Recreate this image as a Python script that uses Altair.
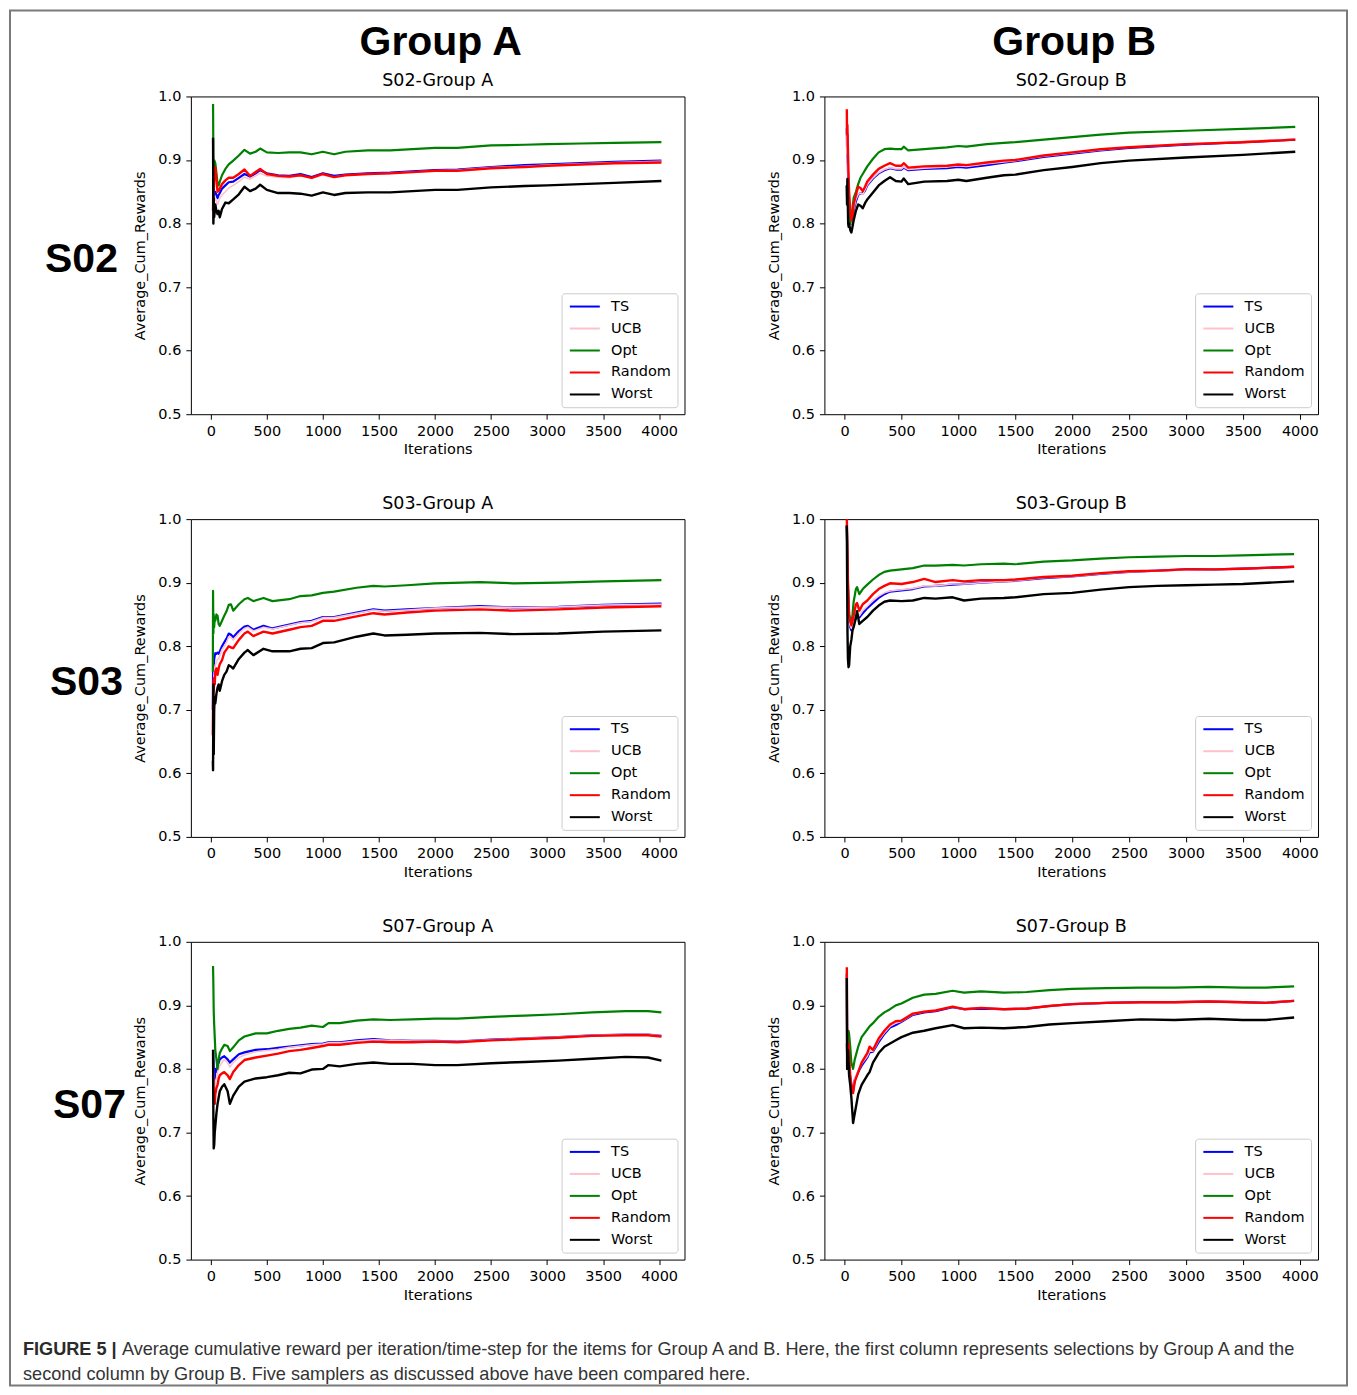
import altair as alt
import pandas as pd

SAMPLERS = ["TS", "UCB", "Opt", "Random", "Worst"]
COLORS = ["#0000ff", "#ffc0cb", "#008000", "#ff0000", "#000000"]
LINE_WIDTHS = [2.2, 1.6, 2.2, 2.4, 2.4]
X_TICKS = [0, 500, 1000, 1500, 2000, 2500, 3000, 3500, 4000]
Y_TICKS = [0.5, 0.6, 0.7, 0.8, 0.9, 1.0]

# ---------------- S02 - Group A ----------------
S02A_ITER = [20, 23, 26, 30, 40, 50, 60, 70, 80, 100, 130, 160, 200, 250, 300, 350, 400, 440, 500, 600,
             700, 800, 900, 1000, 1100, 1200, 1400, 1600, 1800, 2000, 2200, 2500, 2800, 3000, 3300, 3600, 4020]
S02A_TS = [0.82, 0.86, 0.84, 0.85, 0.85, 0.845, 0.84, 0.845, 0.848, 0.855, 0.86, 0.865, 0.866, 0.872, 0.878, 0.874,
           0.879, 0.884, 0.879, 0.876, 0.875, 0.878, 0.873, 0.879, 0.875, 0.877, 0.879, 0.880, 0.882, 0.884, 0.885,
           0.889, 0.892, 0.893, 0.895, 0.897, 0.899]
S02A_UCB = [0.80, 0.85, 0.83, 0.835, 0.84, 0.835, 0.83, 0.835, 0.84, 0.845, 0.85, 0.856, 0.86, 0.866, 0.873, 0.87,
            0.875, 0.879, 0.875, 0.873, 0.872, 0.876, 0.871, 0.877, 0.873, 0.876, 0.878, 0.879, 0.881, 0.883, 0.884,
            0.888, 0.890, 0.892, 0.894, 0.896, 0.898]
S02A_OPT = [0.988, 0.90, 0.87, 0.90, 0.895, 0.88, 0.862, 0.86, 0.866, 0.876, 0.886, 0.893, 0.899, 0.907, 0.916, 0.91,
            0.913, 0.918, 0.912, 0.911, 0.912, 0.912, 0.909, 0.913, 0.909, 0.913, 0.915, 0.915, 0.917, 0.919, 0.919,
            0.923, 0.924, 0.925, 0.926, 0.927, 0.928]
S02A_RANDOM = [0.82, 0.89, 0.85, 0.875, 0.888, 0.87, 0.85, 0.852, 0.855, 0.862, 0.868, 0.872, 0.872, 0.878, 0.885,
               0.875, 0.881, 0.886, 0.878, 0.875, 0.874, 0.876, 0.872, 0.878, 0.873, 0.876, 0.878, 0.879, 0.881,
               0.883, 0.883, 0.887, 0.889, 0.891, 0.893, 0.895, 0.896]
S02A_WORST = [0.935, 0.80, 0.84, 0.81, 0.83, 0.82, 0.815, 0.82, 0.81, 0.823, 0.833, 0.832, 0.838, 0.846, 0.858, 0.851,
              0.855, 0.861, 0.853, 0.848, 0.848, 0.847, 0.844, 0.849, 0.845, 0.848, 0.849, 0.849, 0.851, 0.853, 0.853,
              0.857, 0.859, 0.860, 0.862, 0.864, 0.867]

# ---------------- S02 - Group B ----------------
S02B_ITER = [20, 22, 25, 28, 32, 36, 40, 50, 60, 70, 80, 100, 120, 140, 160, 180, 200, 250, 300, 350, 400, 450, 500,
             520, 560, 700, 900, 1000, 1070, 1250, 1400, 1500, 1750, 2000, 2250, 2500, 3000, 3500, 3960]
S02B_TS = [0.95, 0.92, 0.94, 0.90, 0.87, 0.85, 0.83, 0.81, 0.80, 0.805, 0.82, 0.835, 0.845, 0.848, 0.847, 0.852, 0.86,
           0.871, 0.879, 0.884, 0.887, 0.885, 0.885, 0.888, 0.884, 0.886, 0.887, 0.889, 0.888, 0.892, 0.896, 0.898,
           0.905, 0.910, 0.915, 0.919, 0.924, 0.928, 0.932]
S02B_UCB = [0.94, 0.91, 0.93, 0.90, 0.87, 0.85, 0.83, 0.81, 0.80, 0.808, 0.822, 0.838, 0.846, 0.848, 0.846, 0.853,
            0.861, 0.872, 0.88, 0.885, 0.888, 0.886, 0.886, 0.889, 0.885, 0.887, 0.889, 0.891, 0.89, 0.894, 0.897,
            0.899, 0.906, 0.911, 0.916, 0.92, 0.925, 0.929, 0.933]
S02B_OPT = [0.86, 0.84, 0.86, 0.845, 0.83, 0.82, 0.81, 0.80, 0.81, 0.825, 0.84, 0.85, 0.862, 0.872, 0.878, 0.884, 0.89,
            0.902, 0.912, 0.917, 0.918, 0.917, 0.917, 0.921, 0.915, 0.917, 0.92, 0.922, 0.921, 0.925, 0.927, 0.928,
            0.932, 0.936, 0.940, 0.943, 0.946, 0.949, 0.952]
S02B_RANDOM = [0.98, 0.94, 0.955, 0.93, 0.90, 0.87, 0.85, 0.82, 0.805, 0.81, 0.83, 0.845, 0.858, 0.856, 0.851, 0.858,
               0.866, 0.877, 0.886, 0.891, 0.895, 0.891, 0.891, 0.895, 0.888, 0.89, 0.891, 0.893, 0.892, 0.896, 0.899,
               0.900, 0.907, 0.912, 0.917, 0.920, 0.925, 0.928, 0.932]
S02B_WORST = [0.86, 0.83, 0.87, 0.84, 0.80, 0.795, 0.80, 0.79, 0.786, 0.795, 0.805, 0.82, 0.83, 0.828, 0.824, 0.832,
              0.838, 0.849, 0.86, 0.867, 0.873, 0.867, 0.866, 0.871, 0.862, 0.866, 0.867, 0.869, 0.867, 0.872, 0.876,
              0.877, 0.884, 0.889, 0.895, 0.899, 0.904, 0.908, 0.913]

# ---------------- S03 - Group A ----------------
S03A_ITER = [18, 20, 23, 26, 30, 35, 40, 50, 60, 70, 80, 100, 120, 140, 160, 180, 200, 250, 300, 330, 380, 470, 550,
             700, 800, 900, 1000, 1100, 1300, 1450, 1550, 1750, 2000, 2400, 2700, 3100, 3500, 4020]
S03A_TS = [0.70, 0.76, 0.74, 0.77, 0.78, 0.785, 0.789, 0.788, 0.79, 0.788, 0.792, 0.80, 0.806, 0.812, 0.82, 0.818,
           0.814, 0.824, 0.831, 0.832, 0.826, 0.832, 0.828, 0.834, 0.838, 0.840, 0.846, 0.846, 0.853, 0.858, 0.856,
           0.858, 0.860, 0.863, 0.861, 0.862, 0.865, 0.867]
S03A_UCB = [0.68, 0.74, 0.72, 0.75, 0.76, 0.765, 0.77, 0.775, 0.78, 0.78, 0.785, 0.795, 0.80, 0.806, 0.815, 0.814,
            0.81, 0.82, 0.828, 0.83, 0.824, 0.83, 0.827, 0.833, 0.837, 0.839, 0.845, 0.845, 0.852, 0.857, 0.855,
            0.857, 0.860, 0.862, 0.861, 0.862, 0.865, 0.866]
S03A_OPT = [0.76, 0.887, 0.82, 0.85, 0.83, 0.845, 0.84, 0.85, 0.848, 0.835, 0.832, 0.84, 0.848, 0.855, 0.865, 0.866,
            0.856, 0.866, 0.874, 0.876, 0.871, 0.876, 0.871, 0.874, 0.879, 0.88, 0.884, 0.886, 0.892, 0.895, 0.894,
            0.896, 0.899, 0.901, 0.899, 0.900, 0.902, 0.904]
S03A_RANDOM = [0.66, 0.70, 0.745, 0.73, 0.75, 0.74, 0.76, 0.765, 0.755, 0.765, 0.772, 0.778, 0.79, 0.795, 0.80, 0.798,
               0.797, 0.81, 0.82, 0.823, 0.816, 0.823, 0.82, 0.826, 0.830, 0.832, 0.840, 0.840, 0.847, 0.852, 0.850,
               0.853, 0.856, 0.858, 0.856, 0.858, 0.861, 0.863]
S03A_WORST = [0.62, 0.605, 0.74, 0.63, 0.70, 0.72, 0.71, 0.725, 0.735, 0.74, 0.73, 0.745, 0.755, 0.76, 0.77, 0.768,
              0.765, 0.78, 0.79, 0.794, 0.786, 0.796, 0.792, 0.792, 0.796, 0.797, 0.805, 0.806, 0.815, 0.820, 0.817,
              0.818, 0.820, 0.821, 0.819, 0.820, 0.823, 0.825]

# ---------------- S03 - Group B ----------------
S03B_ITER = [20, 23, 26, 30, 35, 40, 50, 60, 70, 80, 100, 110, 130, 160, 200, 250, 300, 350, 400, 500, 600, 700, 800,
             950, 1050, 1200, 1400, 1500, 1750, 2000, 2250, 2500, 2750, 3000, 3250, 3500, 3950]
S03B_TS = [0.99, 0.96, 0.93, 0.89, 0.86, 0.84, 0.83, 0.825, 0.83, 0.835, 0.845, 0.848, 0.845, 0.852, 0.86, 0.868,
           0.876, 0.882, 0.886, 0.888, 0.890, 0.894, 0.895, 0.897, 0.898, 0.900, 0.902, 0.903, 0.907, 0.910, 0.914,
           0.917, 0.919, 0.921, 0.921, 0.922, 0.925]
S03B_UCB = [0.99, 0.96, 0.93, 0.89, 0.86, 0.84, 0.832, 0.828, 0.833, 0.84, 0.85, 0.852, 0.848, 0.856, 0.863, 0.872,
            0.879, 0.884, 0.887, 0.889, 0.891, 0.895, 0.895, 0.898, 0.898, 0.900, 0.902, 0.903, 0.908, 0.910, 0.914,
            0.917, 0.919, 0.920, 0.921, 0.922, 0.925]
S03B_OPT = [0.99, 0.96, 0.93, 0.90, 0.87, 0.85, 0.84, 0.835, 0.85, 0.87, 0.89, 0.893, 0.882, 0.89, 0.897, 0.905, 0.912,
            0.917, 0.919, 0.921, 0.923, 0.927, 0.927, 0.928, 0.927, 0.929, 0.93, 0.929, 0.933, 0.935, 0.938, 0.94,
            0.941, 0.942, 0.942, 0.943, 0.945]
S03B_RANDOM = [1.0, 0.975, 0.94, 0.90, 0.87, 0.85, 0.84, 0.833, 0.84, 0.848, 0.866, 0.868, 0.856, 0.866, 0.872, 0.882,
               0.89, 0.895, 0.899, 0.898, 0.901, 0.906, 0.901, 0.904, 0.902, 0.904, 0.904, 0.905, 0.909, 0.911, 0.915,
               0.918, 0.919, 0.921, 0.921, 0.922, 0.925]
S03B_WORST = [0.99, 0.90, 0.82, 0.78, 0.767, 0.77, 0.80, 0.81, 0.825, 0.83, 0.845, 0.855, 0.835, 0.84, 0.846, 0.856,
              0.864, 0.87, 0.872, 0.871, 0.872, 0.876, 0.875, 0.877, 0.872, 0.875, 0.876, 0.877, 0.882, 0.884, 0.889,
              0.893, 0.895, 0.896, 0.897, 0.898, 0.902]

# ---------------- S07 - Group A ----------------
S07A_ITER = [20, 23, 26, 30, 35, 40, 50, 60, 70, 80, 100, 120, 150, 170, 200, 250, 300, 400, 500, 600, 700, 800, 900,
             1000, 1050, 1150, 1300, 1450, 1600, 1800, 2000, 2200, 2500, 2800, 3100, 3400, 3700, 3900, 4020]
S07A_TS = [0.83, 0.82, 0.80, 0.79, 0.78, 0.80, 0.795, 0.805, 0.81, 0.815, 0.818, 0.82, 0.815, 0.81, 0.815, 0.823,
           0.826, 0.83, 0.831, 0.833, 0.835, 0.837, 0.839, 0.840, 0.842, 0.842, 0.845, 0.847, 0.845, 0.844, 0.844,
           0.843, 0.846, 0.848, 0.850, 0.853, 0.854, 0.854, 0.852]
S07A_UCB = [0.82, 0.80, 0.78, 0.77, 0.76, 0.78, 0.785, 0.795, 0.80, 0.805, 0.81, 0.815, 0.81, 0.803, 0.81, 0.818,
            0.822, 0.827, 0.829, 0.831, 0.834, 0.836, 0.838, 0.839, 0.841, 0.841, 0.844, 0.846, 0.845, 0.844, 0.844,
            0.843, 0.846, 0.848, 0.850, 0.853, 0.854, 0.854, 0.852]
S07A_OPT = [0.962, 0.93, 0.89, 0.87, 0.85, 0.83, 0.815, 0.80, 0.815, 0.825, 0.832, 0.838, 0.836, 0.828, 0.834, 0.845,
            0.851, 0.856, 0.856, 0.860, 0.863, 0.865, 0.868, 0.866, 0.872, 0.872, 0.876, 0.878, 0.877, 0.878, 0.879,
            0.879, 0.882, 0.884, 0.886, 0.889, 0.891, 0.891, 0.889]
S07A_RANDOM = [0.79, 0.77, 0.75, 0.76, 0.745, 0.76, 0.77, 0.775, 0.785, 0.79, 0.793, 0.795, 0.79, 0.784, 0.795, 0.806,
               0.814, 0.818, 0.821, 0.824, 0.828, 0.830, 0.833, 0.836, 0.838, 0.838, 0.841, 0.843, 0.842, 0.842,
               0.843, 0.842, 0.845, 0.847, 0.849, 0.852, 0.853, 0.853, 0.851]
S07A_WORST = [0.83, 0.72, 0.675, 0.68, 0.70, 0.71, 0.73, 0.745, 0.755, 0.765, 0.772, 0.776, 0.765, 0.745, 0.758, 0.772,
              0.78, 0.785, 0.787, 0.790, 0.794, 0.793, 0.799, 0.800, 0.806, 0.804, 0.808, 0.810, 0.808, 0.808, 0.806,
              0.806, 0.809, 0.811, 0.813, 0.816, 0.819, 0.818, 0.813]

# ---------------- S07 - Group B ----------------
S07B_ITER = [20, 23, 26, 30, 35, 40, 50, 60, 75, 90, 120, 150, 200, 220, 250, 300, 350, 400, 450, 500, 600, 700, 800,
             950, 1050, 1200, 1400, 1600, 1800, 2000, 2300, 2600, 2900, 3200, 3500, 3700, 3950]
S07B_TS = [0.95, 0.82, 0.80, 0.81, 0.83, 0.81, 0.785, 0.775, 0.765, 0.783, 0.795, 0.805, 0.818, 0.826, 0.827, 0.842,
           0.855, 0.865, 0.869, 0.874, 0.885, 0.889, 0.891, 0.897, 0.894, 0.895, 0.894, 0.895, 0.899, 0.902, 0.904,
           0.905, 0.905, 0.906, 0.905, 0.904, 0.907]
S07B_UCB = [0.95, 0.82, 0.80, 0.81, 0.83, 0.81, 0.785, 0.775, 0.765, 0.785, 0.797, 0.808, 0.82, 0.828, 0.828, 0.845,
            0.857, 0.867, 0.872, 0.875, 0.886, 0.89, 0.892, 0.898, 0.894, 0.896, 0.894, 0.895, 0.899, 0.902, 0.904,
            0.905, 0.905, 0.906, 0.905, 0.904, 0.907]
S07B_OPT = [0.84, 0.82, 0.85, 0.86, 0.86, 0.855, 0.835, 0.81, 0.80, 0.815, 0.835, 0.85, 0.862, 0.867, 0.872, 0.882,
            0.889, 0.894, 0.90, 0.903, 0.912, 0.917, 0.918, 0.923, 0.92, 0.922, 0.92, 0.921, 0.924, 0.926, 0.927,
            0.928, 0.928, 0.929, 0.928, 0.928, 0.93]
S07B_RANDOM = [0.96, 0.83, 0.80, 0.82, 0.84, 0.82, 0.79, 0.775, 0.762, 0.78, 0.795, 0.81, 0.825, 0.835, 0.83, 0.848,
               0.86, 0.87, 0.875, 0.876, 0.887, 0.89, 0.892, 0.898, 0.894, 0.896, 0.894, 0.895, 0.899, 0.902, 0.904,
               0.905, 0.905, 0.906, 0.905, 0.904, 0.907]
S07B_WORST = [0.943, 0.80, 0.82, 0.83, 0.81, 0.79, 0.775, 0.755, 0.715, 0.73, 0.76, 0.775, 0.79, 0.795, 0.81, 0.825,
              0.835, 0.84, 0.845, 0.85, 0.857, 0.86, 0.864, 0.869, 0.864, 0.865, 0.864, 0.866, 0.87, 0.872, 0.875,
              0.878, 0.877, 0.879, 0.877, 0.877, 0.881]

PANELS = [
    ("S02", "Group A", S02A_ITER, [S02A_TS, S02A_UCB, S02A_OPT, S02A_RANDOM, S02A_WORST]),
    ("S02", "Group B", S02B_ITER, [S02B_TS, S02B_UCB, S02B_OPT, S02B_RANDOM, S02B_WORST]),
    ("S03", "Group A", S03A_ITER, [S03A_TS, S03A_UCB, S03A_OPT, S03A_RANDOM, S03A_WORST]),
    ("S03", "Group B", S03B_ITER, [S03B_TS, S03B_UCB, S03B_OPT, S03B_RANDOM, S03B_WORST]),
    ("S07", "Group A", S07A_ITER, [S07A_TS, S07A_UCB, S07A_OPT, S07A_RANDOM, S07A_WORST]),
    ("S07", "Group B", S07B_ITER, [S07B_TS, S07B_UCB, S07B_OPT, S07B_RANDOM, S07B_WORST]),
]

CAPTION_BOLD = "FIGURE 5 |"
CAPTION_LINE1 = ("Average cumulative reward per iteration/time-step for the items for Group A and B. Here, "
                 "the first column represents selections by Group A and the")
CAPTION_LINE2 = "second column by Group B. Five samplers as discussed above have been compared here."

W, H = 494, 318
X_DOMAIN = {"Group A": [-178, 4226], "Group B": [-177, 4160]}
ROW_LABEL_X = {"S02": -73, "S03": -68, "S07": -65}
FONT = "DejaVu Sans"
CAPTION_SIZE = 18.15

ONE = pd.DataFrame({"k": [0]})


def text_layer(txt, x, y, **kw):
    return alt.Chart(ONE).mark_text(text=txt, **kw).encode(x=alt.value(x), y=alt.value(y))


def make_panel(i, row, group, iters, values):
    recs = []
    for s, vals in zip(SAMPLERS, values):
        for it, v in zip(iters, vals):
            recs.append({"Iteration": it, "Reward": v, "Sampler": s})
    df = pd.DataFrame(recs)

    x = alt.X("Iteration:Q",
              scale=alt.Scale(domain=X_DOMAIN[group], nice=False, zero=False),
              axis=alt.Axis(values=X_TICKS, format="d", title="Iterations", labelFlush=False))
    y = alt.Y("Reward:Q",
              scale=alt.Scale(domain=[0.5, 1.0], nice=False, zero=False),
              axis=alt.Axis(values=Y_TICKS, format=".1f", title="Average_Cum_Rewards", labelFlush=False))
    legend = alt.Legend(title=None, orient="bottom-right", offset=7,
                        symbolType="M-3,0L3,0", symbolSize=100, symbolStrokeWidth=2,
                        symbolOffset=10, labelOffset=19,
                        labelFont=FONT, labelFontSize=14.5, labelColor="black",
                        rowPadding=7, padding=6,
                        strokeColor="#cccccc", fillColor="white", cornerRadius=3)
    color = alt.Color("Sampler:N", scale=alt.Scale(domain=SAMPLERS, range=COLORS),
                      legend=legend, title=None)

    layers = []
    for s, w in zip(SAMPLERS, LINE_WIDTHS):
        layers.append(
            alt.Chart(df).transform_filter(alt.datum.Sampler == s)
            .mark_line(strokeWidth=w, strokeJoin="round")
            .encode(x=x, y=y, color=color)
        )

    # panel title
    layers.append(text_layer(f"{row}-{group}", W / 2, -10, font=FONT, fontSize=17.5,
                             align="center", baseline="alphabetic", color="black"))
    if i < 2:
        layers.append(text_layer(group, 250, -41, font="Liberation Sans", fontSize=41,
                                 fontWeight="bold", align="center", baseline="alphabetic", color="black"))
    if i % 2 == 0:
        layers.append(text_layer(row, ROW_LABEL_X[row], 176, font="Liberation Sans", fontSize=41,
                                 fontWeight="bold", align="right", baseline="alphabetic", color="black"))
    if i == 0:
        # outer figure frame (kept inside the 1341 x 1379 drawable page area)
        layers.append(alt.Chart(ONE).mark_rect(fill="transparent", stroke="#7a7a7a", strokeWidth=2)
                      .encode(x=alt.value(-181), x2=alt.value(1157), y=alt.value(-86), y2=alt.value(1290)))
    if i == 4:
        layers.append(text_layer(CAPTION_BOLD, -168, 413, font="Liberation Sans", fontSize=CAPTION_SIZE,
                                 fontWeight="bold", align="left", baseline="alphabetic", color="#2b2b2b"))
        layers.append(text_layer(CAPTION_LINE1, -69, 413, font="Liberation Sans", fontSize=CAPTION_SIZE,
                                 align="left", baseline="alphabetic", color="#333333"))
        layers.append(text_layer(CAPTION_LINE2, -168, 439, font="Liberation Sans", fontSize=CAPTION_SIZE,
                                 align="left", baseline="alphabetic", color="#333333"))

    return alt.layer(*layers).properties(width=W, height=H)


panels = [make_panel(i, *p) for i, p in enumerate(PANELS)]

chart = (
    alt.concat(*panels, columns=2, spacing={"row": 105, "column": 140}, bounds="flush")
    .resolve_scale(color="independent")
    .resolve_legend(color="independent")
    .properties(padding=0)
    .configure_view(stroke="black", strokeWidth=1)
    .configure_axis(domain=False, grid=False, tickColor="black", tickSize=5, tickWidth=1,
                    labelFont=FONT, labelFontSize=14.5, labelColor="black", labelPadding=5,
                    titleFont=FONT, titleFontSize=14.5, titleFontWeight="normal", titleColor="black")
    .configure_axisX(titlePadding=5)
    .configure_axisY(titlePadding=10)
)

chart.save("out.html", embed_options={"renderer": "svg", "actions": False})
